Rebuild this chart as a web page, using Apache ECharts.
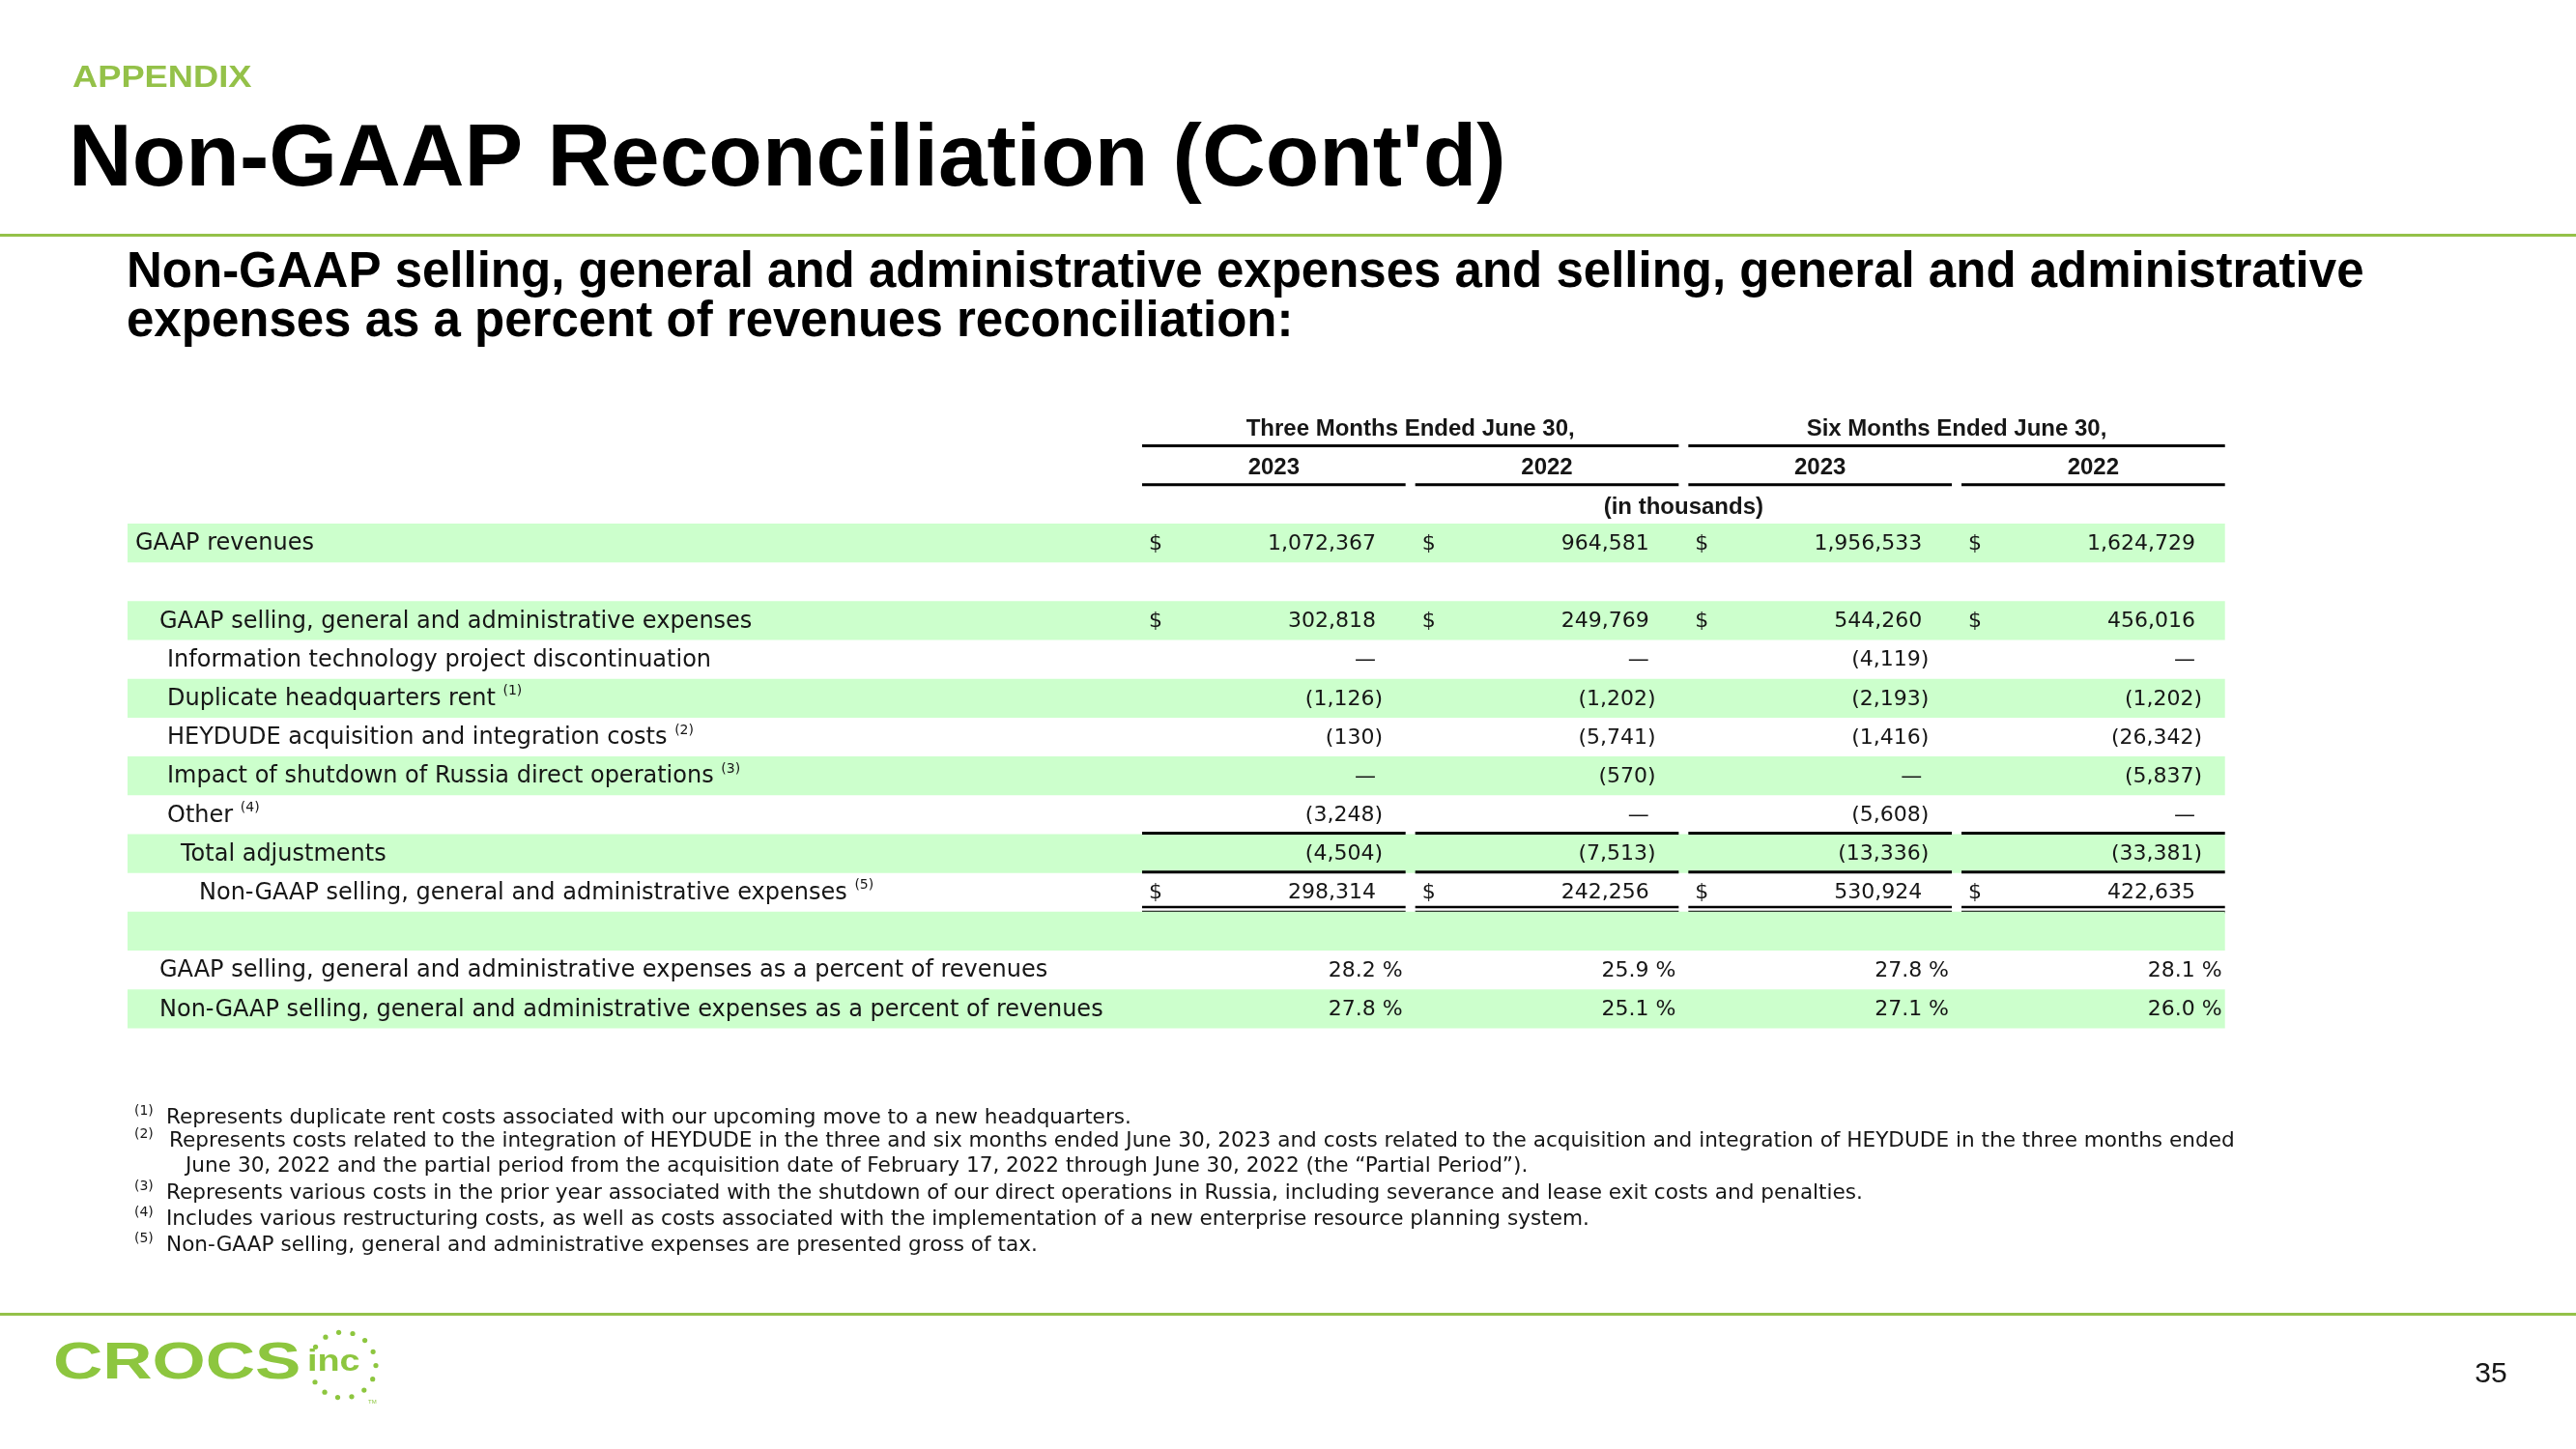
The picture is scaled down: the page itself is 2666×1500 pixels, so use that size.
<!DOCTYPE html>
<html><head><meta charset="utf-8">
<script src="https://cdn.jsdelivr.net/npm/echarts@6/dist/echarts.min.js"></script>
<style>html,body{margin:0;padding:0;background:#fff}#c{width:2666px;height:1500px}</style>
</head><body><div id="c"></div>
<script>
// ---------- data ----------
const rowLabels = [
  'GAAP revenues',
  '',
  'GAAP selling, general and administrative expenses',
  'Information technology project discontinuation',
  'Duplicate headquarters rent',
  'HEYDUDE acquisition and integration costs',
  'Impact of shutdown of Russia direct operations',
  'Other',
  'Total adjustments',
  'Non-GAAP selling, general and administrative expenses',
  '',
  'GAAP selling, general and administrative expenses as a percent of revenues',
  'Non-GAAP selling, general and administrative expenses as a percent of revenues'
];
const rowNotes = ['', '', '', '', '(1)', '(2)', '(3)', '(4)', '', '(5)', '', '', ''];
const rowLevel = [0, 0, 1, 2, 2, 2, 2, 2, 3, 4, 0, 1, 1];
const periodLabels = ['Three Months Ended June 30,', 'Six Months Ended June 30,'];
const yearLabels = ['2023', '2022', '2023', '2022'];
const unitLabel = '(in thousands)';
// 0 = dash, null = blank
const threeMonths2023 = [1072367, null, 302818, 0, -1126, -130, 0, -3248, -4504, 298314, null, 28.2, 27.8];
const threeMonths2022 = [964581, null, 249769, 0, -1202, -5741, -570, 0, -7513, 242256, null, 25.9, 25.1];
const sixMonths2023 = [1956533, null, 544260, -4119, -2193, -1416, 0, -5608, -13336, 530924, null, 27.8, 27.1];
const sixMonths2022 = [1624729, null, 456016, 0, -1202, -26342, -5837, 0, -33381, 422635, null, 28.1, 26.0];
const dollarRows = [0, 2, 9];
const percentRows = [11, 12];
const ruleAboveRows = [8, 9];
const doubleRuleBelowRows = [9];
const footnoteMarks = ['(1)', '(2)', '', '(3)', '(4)', '(5)'];
const footnoteLines = [
  'Represents duplicate rent costs associated with our upcoming move to a new headquarters.',
  'Represents costs related to the integration of HEYDUDE in the three and six months ended June 30, 2023 and costs related to the acquisition and integration of HEYDUDE in the three months ended',
  'June 30, 2022 and the partial period from the acquisition date of February 17, 2022 through June 30, 2022 (the \u201CPartial Period\u201D).',
  'Represents various costs in the prior year associated with the shutdown of our direct operations in Russia, including severance and lease exit costs and penalties.',
  'Includes various restructuring costs, as well as costs associated with the implementation of a new enterprise resource planning system.',
  'Non-GAAP selling, general and administrative expenses are presented gross of tax.'
];

// ---------- style / layout ----------
const valueColumns = [threeMonths2023, threeMonths2022, sixMonths2023, sixMonths2022];
const HEADER_ROWS = 3;
const BAND = '#ccffcc';
const INK = '#161616';
const GREEN = '#94c149';
const REG = '"DejaVu Sans"';
const BOLD = '"Liberation Sans"';
const indentPx = [0, 25, 33, 47, 66];
const LABEL_OFFSET = 1042;
const BAND_OFFSET = 1050;
const GAP = 10;

function fmtNum(v) { return String(Math.abs(v)).replace(/\B(?=(\d{3})+(?!\d))/g, ','); }

function txt(x, y, s, opt) {
  return {
    type: 'text',
    style: Object.assign({
      x: x, y: y, text: s, fill: INK,
      fontSize: 22, fontFamily: REG, fontWeight: 'normal',
      align: 'left', verticalAlign: 'middle',
      textAlign: 'left', textVerticalAlign: 'middle'
    }, opt || {})
  };
}

function bodyItem(params, api) {
  const yIdx = api.value(1);
  const i = yIdx - HEADER_ROWS;
  const c = api.coord([0, yIdx]);
  const sz = api.size([1, 1]);
  const colW = sz[0], rowH = sz[1];
  const left0 = c[0] - colW / 2;
  const top = c[1] - rowH / 2, bottom = c[1] + rowH / 2, cy = c[1];
  const ch = [];
  if (i % 2 === 0) {
    ch.push({ type: 'rect', shape: { x: left0 - BAND_OFFSET, y: top, width: BAND_OFFSET + 4 * colW - GAP, height: rowH }, style: { fill: BAND } });
  }
  if (rowLabels[i]) {
    let t = '{t|' + rowLabels[i] + '}';
    if (rowNotes[i]) t += '{t| }{s|' + rowNotes[i] + '}';
    ch.push({
      type: 'text',
      style: {
        x: left0 - LABEL_OFFSET + indentPx[rowLevel[i]], y: cy + 1, text: t,
        align: 'left', verticalAlign: 'middle', textAlign: 'left', textVerticalAlign: 'middle',
        fill: INK, fontSize: 24, fontFamily: REG,
        rich: {
          t: { fontSize: 24, fontFamily: REG, fill: INK, lineHeight: 30 },
          s: { fontSize: 14, fontFamily: REG, fill: INK, lineHeight: 16, verticalAlign: 'top' }
        }
      }
    });
  }
  for (let k = 0; k < 4; k++) {
    const cl = left0 + k * colW;
    const lineR = cl + colW - GAP;
    const v = valueColumns[k][i];
    if (v !== null && v !== undefined) {
      if (percentRows.indexOf(i) >= 0) {
        ch.push(txt(lineR - 3, cy + 1, v.toFixed(1) + ' %', { align: 'right', textAlign: 'right' }));
      } else {
        let s, rx;
        if (v === 0) { s = '\u2014'; rx = cl + 242; }
        else if (v < 0) { s = '(' + fmtNum(v) + ')'; rx = cl + 249; }
        else { s = fmtNum(v); rx = cl + 242; }
        ch.push(txt(rx, cy + 1, s, { align: 'right', textAlign: 'right' }));
      }
      if (dollarRows.indexOf(i) >= 0) {
        ch.push(txt(cl + 14, cy + 1, '$', { align: 'center', textAlign: 'center' }));
      }
    }
    if (ruleAboveRows.indexOf(i) >= 0) {
      ch.push({ type: 'rect', shape: { x: cl, y: top - 2.5, width: colW - GAP, height: 3 }, style: { fill: '#000' } });
    }
    if (doubleRuleBelowRows.indexOf(i) >= 0) {
      ch.push({ type: 'rect', shape: { x: cl, y: bottom - 6, width: colW - GAP, height: 2.5 }, style: { fill: '#000' } });
      ch.push({ type: 'rect', shape: { x: cl, y: bottom - 1, width: colW - GAP, height: 2.5 }, style: { fill: '#000' } });
    }
  }
  return { type: 'group', children: ch };
}

function headerItem(params, api) {
  const k = api.value(0);
  const c = api.coord([k, 1]);
  const sz = api.size([1, 1]);
  const colW = sz[0], rowH = sz[1];
  const left = c[0] - colW / 2, right = left + colW - GAP;
  const cy = c[1];
  const ch = [];
  const bold = { fontSize: 24, fontFamily: BOLD, fontWeight: 'bold', align: 'center', textAlign: 'center' };
  ch.push(txt((left + right) / 2, cy + 3, yearLabels[k], bold));
  ch.push({ type: 'rect', shape: { x: left, y: cy + rowH / 2 - 1.5, width: colW - GAP, height: 3 }, style: { fill: '#000' } });
  if (k % 2 === 0) {
    const r2 = left + 2 * colW - GAP;
    ch.push(txt((left + r2) / 2, cy - rowH + 3, periodLabels[k / 2], bold));
    ch.push({ type: 'rect', shape: { x: left, y: cy - rowH / 2 - 1.5, width: 2 * colW - GAP, height: 3 }, style: { fill: '#000' } });
  }
  if (k === 0) {
    const r4 = left + 4 * colW - GAP;
    ch.push(txt((left + r4) / 2, cy + rowH + 3, unitLabel, bold));
  }
  return { type: 'group', children: ch };
}

// ---------- graphic (slide chrome) ----------
const graphics = [];
function gtext(x, y, s, st, extra) {
  graphics.push(Object.assign({
    type: 'text', x: x, y: y,
    style: Object.assign({ text: s, fill: INK, align: 'left', verticalAlign: 'middle', textAlign: 'left', textVerticalAlign: 'middle' }, st)
  }, extra || {}));
}
gtext(75, 81, 'APPENDIX', { fill: GREEN, fontSize: 31, fontFamily: BOLD, fontWeight: 'bold' }, { scaleX: 1.17 });
gtext(71, 167, "Non-GAAP Reconciliation (Cont'd)", { fontSize: 91, fontFamily: BOLD, fontWeight: 'bold', fill: '#000' });
graphics.push({ type: 'rect', shape: { x: 0, y: 242, width: 2666, height: 3 }, style: { fill: GREEN } });
gtext(131, 283, 'Non-GAAP selling, general and administrative expenses and selling, general and administrative', { fontSize: 51, fontFamily: BOLD, fontWeight: 'bold', fill: '#000' });
gtext(131, 334, 'expenses as a percent of revenues reconciliation:', { fontSize: 51, fontFamily: BOLD, fontWeight: 'bold', fill: '#000' });

const fnY = [1157, 1181, 1207, 1235, 1262, 1289];
const fnX = [172, 175, 192, 172, 172, 172];
footnoteLines.forEach((s, j) => {
  gtext(fnX[j], fnY[j], s, { fontSize: 21.6, fontFamily: REG });
  if (footnoteMarks[j]) gtext(139, fnY[j] - 7, footnoteMarks[j], { fontSize: 14, fontFamily: REG });
});

graphics.push({ type: 'rect', shape: { x: 0, y: 1359, width: 2666, height: 3 }, style: { fill: GREEN } });
// logo
gtext(55, 1412, 'CROCS', { fontSize: 53, fontFamily: BOLD, fontWeight: 'bold', fill: '#8dc63f' }, { scaleX: 1.34 });
gtext(318, 1410, 'inc', { fontSize: 31, fontFamily: BOLD, fontWeight: 'bold', fill: '#8dc63f' }, { scaleX: 1.22 });
for (let d = 0; d < 13; d++) {
  const a = (-146.7 + d * 24.6) * Math.PI / 180;
  graphics.push({ type: 'circle', shape: { cx: 355 + 34 * Math.cos(a), cy: 1413 + 34 * Math.sin(a), r: 2.6 }, style: { fill: '#8dc63f' } });
}
gtext(381, 1451, 'TM', { fontSize: 6, fontFamily: BOLD, fill: '#8dc63f' });
gtext(2578, 1423, '35', { fontSize: 30, fontFamily: BOLD, align: 'center', textAlign: 'center' });

// ---------- chart ----------
const chart = echarts.init(document.getElementById('c'), null, { renderer: 'canvas', width: 2666, height: 1500 });
chart.setOption({
  animation: false,
  backgroundColor: '#ffffff',
  grid: { left: 1182, top: 421.4, width: 1130.7, height: 16 * 40.19, containLabel: false },
  xAxis: { type: 'category', data: ['Q2 2023', 'Q2 2022', 'H1 2023', 'H1 2022'], show: false },
  yAxis: { type: 'category', inverse: true, show: false,
    data: ['period', 'year', 'unit'].concat(rowLabels.map((l, i) => 'r' + i)) },
  graphic: { elements: graphics },
  series: [
    { type: 'custom', renderItem: bodyItem, silent: true, clip: false,
      data: rowLabels.map((l, i) => [0, i + HEADER_ROWS]), z: 2 },
    { type: 'custom', renderItem: headerItem, silent: true, clip: false,
      data: yearLabels.map((y, k) => [k, 1]), z: 3 }
  ]
});
</script>
</body></html>
